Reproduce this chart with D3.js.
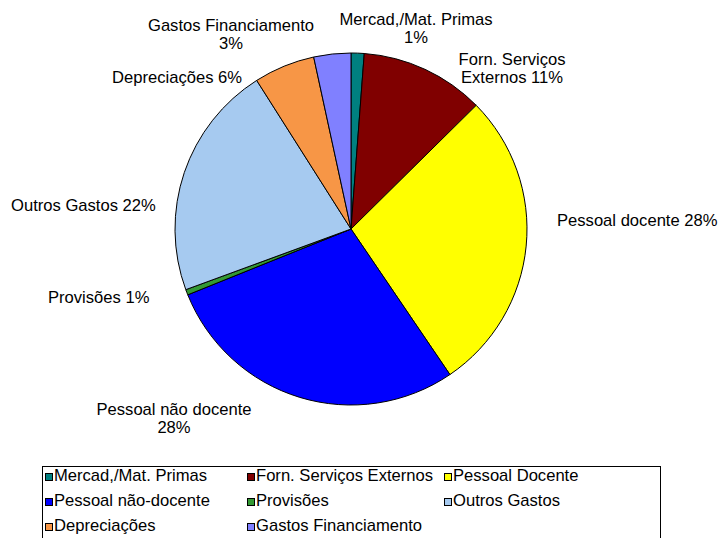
<!DOCTYPE html>
<html>
<head>
<meta charset="utf-8">
<script src="https://cdn.jsdelivr.net/npm/d3@7"></script>
<style>
  html, body { margin: 0; padding: 0; background: #fff; }
  svg text { font-family: "Liberation Sans", Arial, sans-serif; fill: #000; }
</style>
</head>
<body>
<svg id="chart" width="720" height="538"></svg>
<script>
// Cost structure (percent of total)
const categories = [
  "Mercad,/Mat. Primas",
  "Forn. Serviços Externos",
  "Pessoal Docente",
  "Pessoal não-docente",
  "Provisões",
  "Outros Gastos",
  "Depreciações",
  "Gastos Financiamento"
];
const values = [1.2, 11.4, 27.9, 28.4, 0.5, 21.6, 5.6, 3.4];
const colors = ["#008080", "#800000", "#FFFF00", "#0000FF", "#339933", "#A6CAF0", "#F79646", "#8080FF"];

// Slice labels (lines of text); the percentage is appended from the value
const sliceLabels = [
  ["Mercad,/Mat. Primas", ""],
  ["Forn. Serviços", "Externos "],
  ["Pessoal docente "],
  ["Pessoal não docente", ""],
  ["Provisões "],
  ["Outros Gastos "],
  ["Depreciações "],
  ["Gastos Financiamento", ""]
];
// Label placement: anchor point, alignment
const labelLayout = [
  { x: 416, y: 25, anchor: "middle" },
  { x: 512, y: 65, anchor: "middle" },
  { x: 557, y: 226, anchor: "start" },
  { x: 174, y: 415, anchor: "middle" },
  { x: 48, y: 303, anchor: "start" },
  { x: 11, y: 211, anchor: "start" },
  { x: 112, y: 83, anchor: "start" },
  { x: 231, y: 31, anchor: "middle" }
];

const FONT = 16.6;
const svg = d3.select("#chart");
const cx = 351, cy = 229, radius = 176;

const pie = d3.pie().sort(null).value(d => d);
const arcs = pie(values);
const arc = d3.arc().innerRadius(0).outerRadius(radius);

const g = svg.append("g").attr("transform", `translate(${cx},${cy})`);
g.selectAll("path")
  .data(arcs)
  .join("path")
  .attr("d", arc)
  .attr("fill", (d, i) => colors[i])
  .attr("stroke", "#000")
  .attr("stroke-width", 1)
  .attr("stroke-linejoin", "round");

// Slice labels
const pct = v => Math.round(v) + "%";
sliceLabels.forEach((lines, i) => {
  const L = labelLayout[i];
  const t = svg.append("text")
    .attr("x", L.x).attr("y", L.y)
    .attr("text-anchor", L.anchor)
    .attr("font-size", FONT);
  lines.forEach((ln, j) => {
    const isLast = j === lines.length - 1;
    t.append("tspan")
      .attr("x", L.x)
      .attr("dy", j === 0 ? 0 : 18)
      .text(isLast ? ln + pct(values[i]) : ln);
  });
});

// Legend
const legend = svg.append("g");
legend.append("rect")
  .attr("x", 42.5).attr("y", 466.5)
  .attr("width", 618).attr("height", 90)
  .attr("fill", "#fff").attr("stroke", "#000").attr("stroke-width", 1);

const colX = [45, 247, 444];
const rowY = [473, 498, 523];
categories.forEach((c, i) => {
  const col = i % 3, row = Math.floor(i / 3);
  const item = legend.append("g");
  item.append("rect")
    .attr("x", colX[col] + 0.5).attr("y", rowY[row] + 0.5)
    .attr("width", 7).attr("height", 7)
    .attr("fill", colors[i]).attr("stroke", "#000").attr("stroke-width", 1);
  item.append("text")
    .attr("x", colX[col] + 9).attr("y", rowY[row] + 8)
    .attr("font-size", FONT)
    .text(c);
});
</script>
</body>
</html>
